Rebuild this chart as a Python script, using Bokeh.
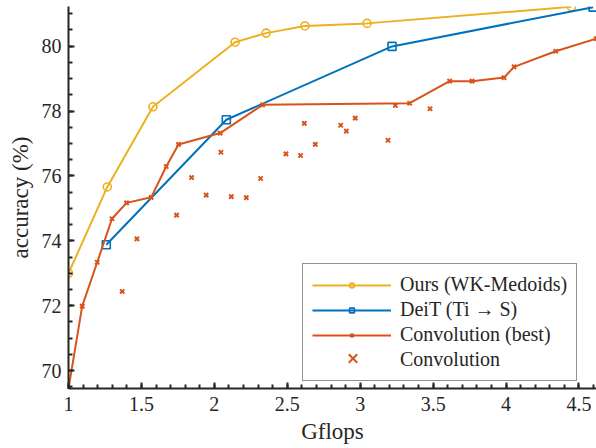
from bokeh.plotting import figure
from bokeh.models import Range1d, FixedTicker, Legend, LegendItem
from bokeh.embed import file_html
from bokeh.resources import INLINE

# ---- data ----
ours_x = [1.0, 1.266, 1.579, 2.142, 2.355, 2.621, 3.047, 4.448]
ours_y = [73.0, 75.66, 78.13, 80.12, 80.40, 80.62, 80.70, 81.21]

deit_x = [1.259, 2.082, 3.218, 4.597]
deit_y = [73.88, 77.73, 79.99, 81.20]

best_x = [1.0, 1.094, 1.197, 1.298, 1.398, 1.567, 1.670, 1.754, 2.040, 2.331,
          3.339, 3.613, 3.767, 3.986, 4.055, 4.340, 4.619]
best_y = [69.45, 71.99, 73.34, 74.68, 75.17, 75.34, 76.29, 76.97, 77.32, 78.19,
          78.24, 78.92, 78.92, 79.03, 79.36, 79.84, 80.23]

conv_x = [1.368, 1.469, 1.741, 1.844, 1.944, 2.045, 2.116, 2.219, 2.317, 2.491,
          2.591, 2.617, 2.692, 2.866, 2.905, 2.966, 3.191, 3.241, 3.479]
conv_y = [72.44, 74.06, 74.79, 75.95, 75.41, 76.73, 75.36, 75.33, 75.92, 76.68,
          76.63, 77.62, 76.97, 77.56, 77.38, 77.78, 77.10, 78.17, 78.07]

x_ticks = [1, 1.5, 2, 2.5, 3, 3.5, 4, 4.5]
x_tick_labels = ["1", "1.5", "2", "2.5", "3", "3.5", "4", "4.5"]
y_ticks = [70, 72, 74, 76, 78, 80]
y_tick_labels = ["70", "72", "74", "76", "78", "80"]

labels = ["Ours (WK-Medoids)", "DeiT (Ti \u2192 S)", "Convolution (best)", "Convolution"]

YELLOW = "#EDB120"
BLUE = "#0072BD"
RED = "#D95319"
AXC = "#262626"
FONT = "Liberation Serif"

p = figure(width=596, height=448, output_backend="svg", toolbar_location=None,
           x_range=Range1d(1.0, 4.62), y_range=Range1d(69.45, 81.22),
           min_border_left=68, min_border_right=0, min_border_top=6,
           min_border_bottom=60)
p.outline_line_color = None
p.xgrid.visible = False
p.ygrid.visible = False
p.background_fill_color = "white"
p.border_fill_color = "white"

minor_x = [round(1 + 0.1 * i, 2) for i in range(0, 37)]
minor_y = [69.5 + 0.5 * i for i in range(0, 24)]
p.xaxis.ticker = FixedTicker(ticks=x_ticks, minor_ticks=minor_x)
p.yaxis.ticker = FixedTicker(ticks=y_ticks, minor_ticks=minor_y)
p.xaxis.major_label_overrides = {t: l for t, l in zip(x_ticks, x_tick_labels)}
p.yaxis.major_label_overrides = {t: l for t, l in zip(y_ticks, y_tick_labels)}

for ax in (p.xaxis[0], p.yaxis[0]):
    ax.axis_line_color = AXC
    ax.axis_line_width = 2
    ax.major_tick_line_color = AXC
    ax.minor_tick_line_color = AXC
    ax.major_tick_line_width = 2
    ax.minor_tick_line_width = 2
    ax.major_tick_in = 6
    ax.major_tick_out = 0
    ax.minor_tick_in = 4
    ax.minor_tick_out = 0
    ax.major_label_text_font = FONT
    ax.major_label_text_font_size = "20px"
    ax.major_label_text_color = AXC
    ax.axis_label_text_font = FONT
    ax.axis_label_text_font_size = "23px"
    ax.axis_label_text_font_style = "normal"
    ax.axis_label_text_color = AXC

p.xaxis.axis_label = "Gflops"
p.yaxis.axis_label = "accuracy (%)"
p.xaxis.major_label_standoff = 8
p.yaxis.major_label_standoff = 7
p.xaxis.axis_label_standoff = 5
p.yaxis.axis_label_standoff = 6

r_ours_l = p.line(ours_x, ours_y, line_color=YELLOW, line_width=2)
r_ours_m = p.scatter(ours_x, ours_y, marker="circle", size=8, line_color=YELLOW,
                     fill_color=None, line_width=1.6)
r_deit_l = p.line(deit_x, deit_y, line_color=BLUE, line_width=2)
r_deit_m = p.scatter(deit_x, deit_y, marker="square", size=8, line_color=BLUE,
                     fill_color=None, line_width=1.6)
r_conv = p.scatter(conv_x, conv_y, marker="x", size=6, line_color=RED, line_width=2)
r_best_l = p.line(best_x, best_y, line_color=RED, line_width=2)
r_best_m = p.scatter(best_x, best_y, marker="x", size=6, line_color=RED, line_width=2)
# invisible stand-in so the boxed legend keeps the 4th label; its big marker is drawn by legend2
r_dummy = p.scatter(conv_x[:1], conv_y[:1], marker="x", size=1, line_alpha=0, fill_alpha=0)

legend = Legend(items=[
    LegendItem(label=labels[0], renderers=[r_ours_l, r_ours_m]),
    LegendItem(label=labels[1], renderers=[r_deit_l, r_deit_m]),
    LegendItem(label=labels[2], renderers=[r_best_l, r_best_m]),
    LegendItem(label=labels[3], renderers=[r_dummy]),
], location=(234, 7))
legend.label_text_font = FONT
legend.label_text_font_size = "20px"
legend.label_text_color = AXC
legend.glyph_width = 79
legend.glyph_height = 12
legend.label_height = 20
legend.label_standoff = 9
legend.spacing = 2
legend.padding = 9
legend.margin = 0
legend.border_line_color = AXC
legend.border_line_width = 1.5
legend.background_fill_color = "white"
legend.background_fill_alpha = 1.0
p.add_layout(legend, "center")

legend2 = Legend(items=[LegendItem(label=" ", renderers=[r_conv])], location=(245, 15))
legend2.label_text_font_size = "20px"
legend2.glyph_width = 79
legend2.glyph_height = 30
legend2.label_height = 20
legend2.label_standoff = 0
legend2.spacing = 0
legend2.padding = 0
legend2.margin = 0
legend2.border_line_color = None
legend2.background_fill_alpha = 0
p.add_layout(legend2, "center")

open("out.html", "w").write(file_html(p, INLINE))
